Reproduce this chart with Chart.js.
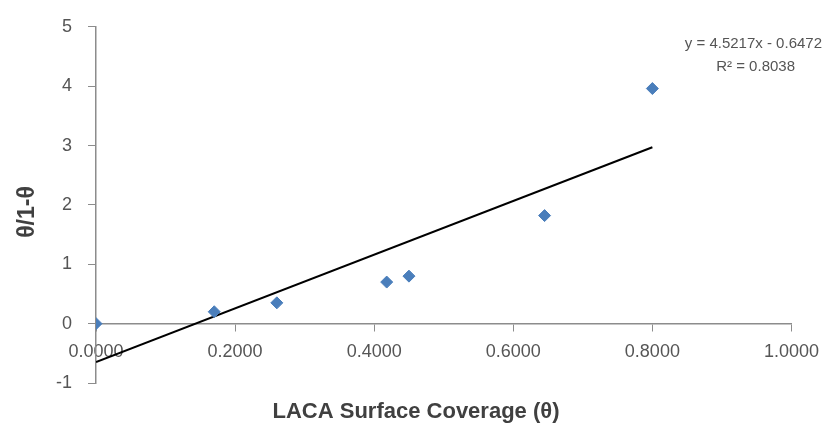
<!DOCTYPE html>
<html>
<head>
<meta charset="utf-8">
<script src="https://cdn.jsdelivr.net/npm/chart.js@4"></script>
<style>
  body { margin: 0; background: #fff; }
  #wrap { width: 830px; height: 425px; }
</style>
</head>
<body>
<div id="wrap"><canvas id="myChart"></canvas></div>
<script>
// surface coverage (theta) and theta/(1-theta)
var coverage = [0.0000, 0.1700, 0.2600, 0.4180, 0.4500, 0.6450, 0.8000];
var ratio = [0.00, 0.20, 0.35, 0.70, 0.80, 1.82, 3.96];

// linear trendline as printed on the chart
var slope = 4.5217;
var intercept = -0.6472;
var rSquared = 0.8038;
var trendRange = [0, 0.8];

var xTicks = [0, 0.2, 0.4, 0.6, 0.8, 1.0];
var yTicks = [-1, 0, 1, 2, 3, 4, 5];

var points = coverage.map(function (x, i) { return { x: x, y: ratio[i] }; });
var trend = trendRange.map(function (x) { return { x: x, y: slope * x + intercept }; });

var axisGrey = '#8c8c8c';
var textGrey = '#555555';
var font = '"Liberation Sans", Arial, sans-serif';

// equation and axis titles
var labels = {
    id: 'labels',
    afterDraw: function (chart) {
        var c = chart.ctx;
        c.save();
        c.fillStyle = textGrey;
        c.font = '15px ' + font;
        c.textAlign = 'right';
        c.textBaseline = 'middle';
        c.fillText('y = ' + slope.toFixed(4) + 'x - ' + Math.abs(intercept).toFixed(4), 822, 44);
        c.fillText('R\u00b2 = ' + rSquared.toFixed(4), 795, 67);

        c.fillStyle = '#404040';
        c.font = 'bold 22px ' + font;
        c.textAlign = 'center';
        c.fillText('LACA Surface Coverage (\u03b8)', 416, 412);

        c.font = 'bold 23px ' + font;
        c.translate(28, 212);
        c.rotate(-Math.PI / 2);
        c.fillText('\u03b8/1-\u03b8', 0, 0);
        c.restore();
    }
};

var ctx = document.getElementById('myChart').getContext('2d');
var chart = new Chart(ctx, {
    type: 'scatter',
    data: {
        datasets: [{
            label: 'data',
            data: points,
            pointStyle: 'rectRot',
            pointRadius: 6,
            pointBackgroundColor: '#4a7ebb',
            pointBorderColor: '#4a7ebb',
            order: 1
        }, {
            type: 'line',
            label: 'trend',
            data: trend,
            borderColor: '#000',
            borderWidth: 2,
            pointRadius: 0,
            fill: false,
            order: 2
        }]
    },
    plugins: [labels],
    options: {
        responsive: true,
        maintainAspectRatio: false,
        animation: false,
        layout: { padding: { top: 22, right: 37, bottom: 42, left: 0 } },
        plugins: { legend: { display: false }, tooltip: { enabled: false } },
        scales: {
            x: {
                type: 'linear',
                position: { y: 0 },
                min: 0,
                max: 1,
                afterBuildTicks: function (axis) {
                    axis.ticks = xTicks.map(function (v) { return { value: v }; });
                },
                grid: { display: true, drawOnChartArea: false, drawTicks: true, tickLength: 7, color: axisGrey },
                border: { color: axisGrey, width: 1.5 },
                ticks: {
                    color: textGrey,
                    font: { size: 18, family: font },
                    padding: 11,
                    maxRotation: 0,
                    callback: function (v) { return Number(v).toFixed(4); }
                }
            },
            y: {
                type: 'linear',
                min: -1,
                max: 5,
                afterBuildTicks: function (axis) {
                    axis.ticks = yTicks.map(function (v) { return { value: v }; });
                },
                afterFit: function (axis) { axis.width = 96; },
                grid: { display: true, drawOnChartArea: false, drawTicks: true, tickLength: 8, color: axisGrey },
                border: { color: axisGrey, width: 1.5 },
                ticks: {
                    color: textGrey,
                    font: { size: 18, family: font },
                    padding: 16
                }
            }
        }
    }
});
</script>
</body>
</html>
